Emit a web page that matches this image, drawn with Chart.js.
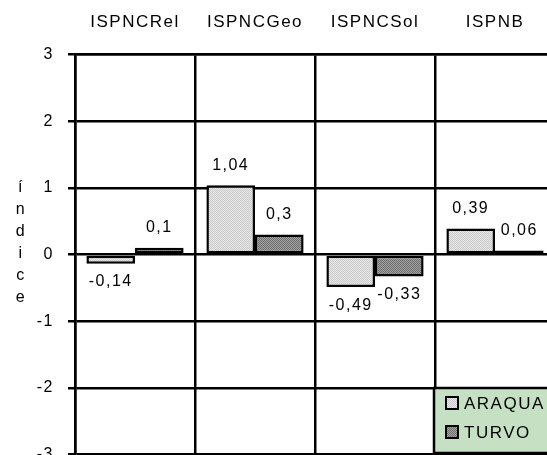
<!DOCTYPE html>
<html>
<head>
<meta charset="utf-8">
<script src="https://cdn.jsdelivr.net/npm/chart.js@4/dist/chart.umd.min.js"></script>
<style>
  html, body { margin: 0; padding: 0; background: #fff; overflow: hidden; }
  #wrap { width: 557px; height: 478px; }
</style>
</head>
<body>
<div id="wrap"><canvas id="grafico" width="557" height="478"></canvas></div>
<script>
var categorias = ["ISPNCRel", "ISPNCGeo", "ISPNCSol", "ISPNB"];
var araqua = [-0.14, 1.04, -0.49, 0.39];
var turvo = [0.1, 0.3, -0.33, 0.06];
var nomesSeries = ["ARAQUA", "TURVO"];
var tituloEixo = "índice";

var fonte = '"Liberation Sans", Arial, sans-serif';

// textura pontilhada das barras
function textura(fundo, ponto) {
    var c = document.createElement("canvas");
    c.width = 2; c.height = 2;
    var g = c.getContext("2d");
    g.fillStyle = fundo;
    g.fillRect(0, 0, 2, 2);
    g.fillStyle = ponto;
    g.fillRect(0, 0, 1, 1);
    g.fillRect(1, 1, 1, 1);
    return g.createPattern(c, "repeat");
}
var corAraqua = textura("#e8e8e8", "#cacaca");
var corTurvo = textura("#a4a4a4", "#6c6c6c");

var espacamento = {
    id: "espacamento",
    beforeDraw: function (chart) {
        chart.ctx.letterSpacing = "1.5px";
    }
};

var rotulos = {
    id: "rotulos",
    afterDatasetsDraw: function (chart) {
        var ctx = chart.ctx;
        ctx.save();
        ctx.font = "16px " + fonte;
        ctx.fillStyle = "#000";
        ctx.textAlign = "center";
        ctx.textBaseline = "middle";
        chart.data.datasets.forEach(function (ds, i) {
            chart.getDatasetMeta(i).data.forEach(function (el, j) {
                var v = ds.data[j];
                var txt = String(v).replace(".", ",");
                var y = v >= 0 ? el.y - 20 : el.y + 18;
                ctx.fillText(txt, el.x, y);
            });
        });
        ctx.restore();
    }
};

var extras = {
    id: "extras",
    afterDraw: function (chart) {
        var ctx = chart.ctx;
        ctx.save();
        // titulo do eixo, letra por letra
        ctx.font = "16px " + fonte;
        ctx.fillStyle = "#000";
        ctx.textAlign = "center";
        ctx.textBaseline = "middle";
        var letras = tituloEixo.split("");
        letras.forEach(function (l, k) {
            ctx.fillText(l, 21, 188 + k * 22);
        });
        // legenda
        ctx.fillStyle = "#c5e0c3";
        ctx.fillRect(434, 388, 130, 65);
        ctx.strokeStyle = "#000";
        ctx.lineWidth = 2.5;
        ctx.strokeRect(434, 388, 130, 65);
        ctx.font = "17px " + fonte;
        chart.data.datasets.forEach(function (ds, i) {
            var y = 403 + i * 29;
            ctx.fillStyle = ds.backgroundColor;
            ctx.fillRect(446, y - 6, 12, 12);
            ctx.lineWidth = 2;
            ctx.strokeRect(446, y - 6, 12, 12);
            ctx.fillStyle = "#000";
            ctx.textAlign = "left";
            ctx.fillText(ds.label, 464, y + 1);
        });
        ctx.restore();
    }
};

new Chart(document.getElementById("grafico").getContext("2d"), {
    type: "bar",
    data: {
        labels: categorias,
        datasets: [
            {
                label: nomesSeries[0],
                data: araqua,
                backgroundColor: corAraqua,
                borderColor: "#000",
                borderWidth: 2.5,
                borderSkipped: false
            },
            {
                label: nomesSeries[1],
                data: turvo,
                backgroundColor: corTurvo,
                borderColor: "#000",
                borderWidth: 2.5,
                borderSkipped: false
            }
        ]
    },
    plugins: [espacamento, rotulos, extras],
    options: {
        responsive: false,
        animation: false,
        devicePixelRatio: 1,
        layout: { padding: { left: 0, top: 0, right: 2, bottom: 3 } },
        datasets: { bar: { categoryPercentage: 0.81, barPercentage: 1 } },
        plugins: {
            legend: { display: false },
            tooltip: { enabled: false }
        },
        scales: {
            x: {
                position: "top",
                afterFit: function (s) { s.height = 54.5; },
                grid: { color: "#000", lineWidth: 2.5, drawTicks: false, offset: true },
                border: { color: "#000", width: 2.5 },
                ticks: { color: "#000", padding: 22, font: { family: fonte, size: 17 } }
            },
            y: {
                min: -3,
                max: 3,
                afterFit: function (s) { s.width = 75; },
                ticks: { stepSize: 1, color: "#000", padding: 14, font: { family: fonte, size: 16 } },
                grid: { color: "#000", lineWidth: 2.5, tickLength: 7 },
                border: { color: "#000", width: 2.5 }
            }
        }
    }
});
</script>
</body>
</html>
